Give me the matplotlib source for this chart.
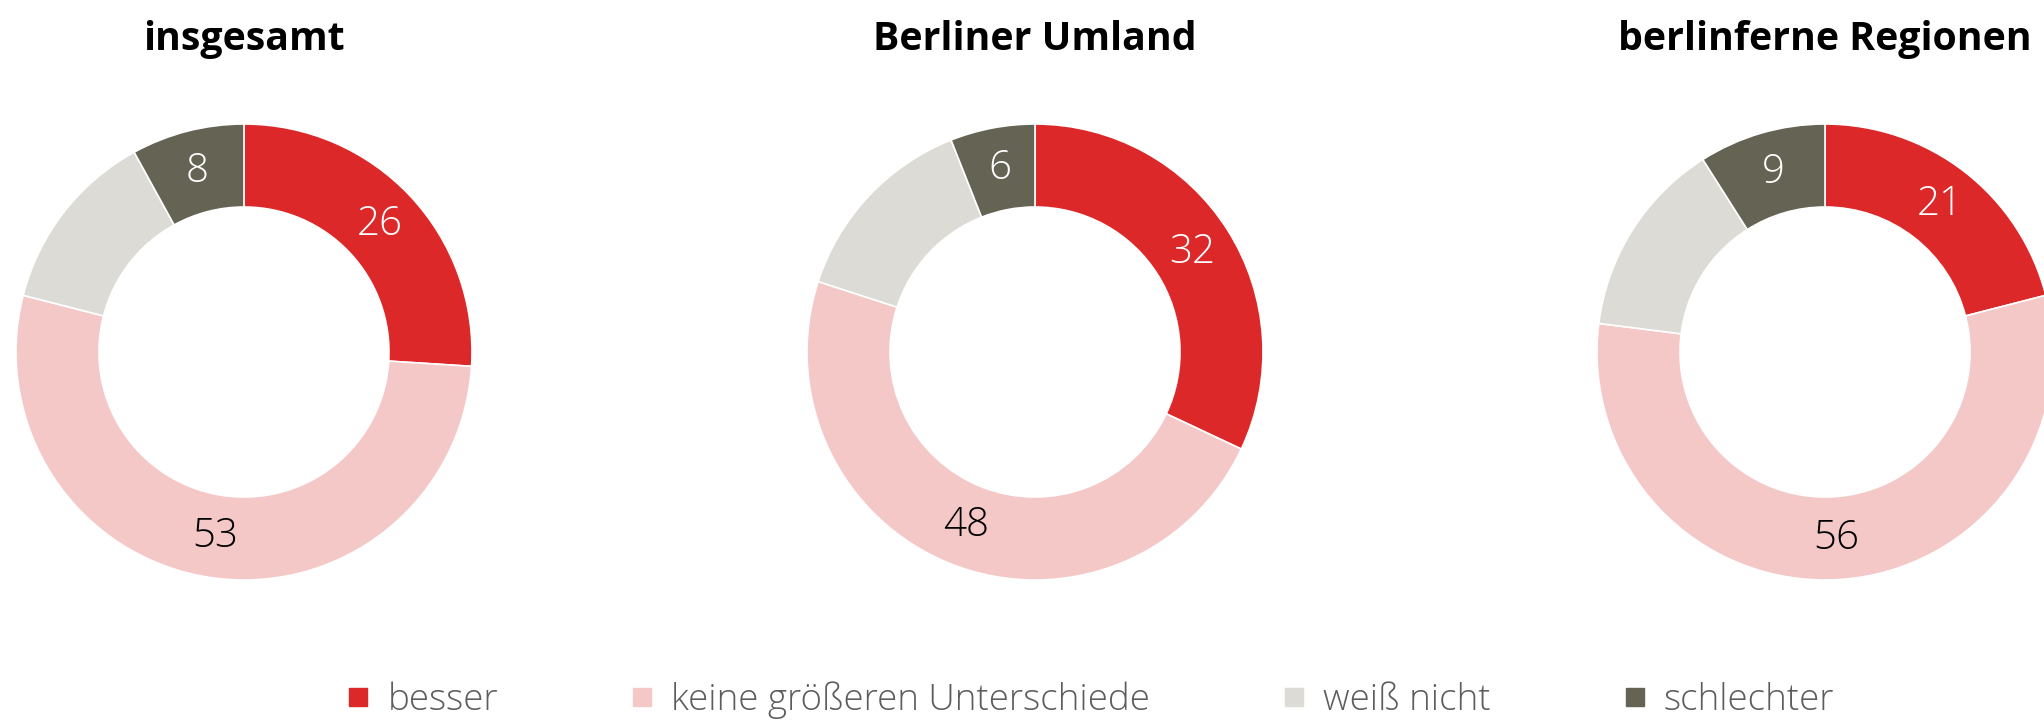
import numpy as np
import matplotlib.pyplot as plt
from matplotlib.lines import Line2D

# data
categories = ['besser', 'keine größeren Unterschiede', 'weiß nicht', 'schlechter']
groups = ['insgesamt', 'Berliner Umland', 'berlinferne Regionen']
insgesamt = [26, 53, 13, 8]
umland = [32, 48, 14, 6]
berlinfern = [21, 56, 14, 9]
colors = ['#dc2829', '#f5c8c8', '#dcdbd6', '#656354']
label_colors = ['white', 'black', 'black', 'white']
unlabeled = 'weiß nicht'

series = [insgesamt, umland, berlinfern]

W, H = 2044, 720
fig = plt.figure(figsize=(W / 100, H / 100), dpi=100)

font = 'Open Sans'
R = 228          # outer radius in px
r_in = 145       # inner radius in px
centers_x = [244, 1035, 1825]
center_y = 352   # from top

for name, vals, cx in zip(groups, series, centers_x):
  pad = 4
  ax = fig.add_axes([(cx - R - pad) / W, (H - center_y - R - pad) / H,
                     2 * (R + pad) / W, 2 * (R + pad) / H])
  lim = (R + pad) / R
  wedges, _ = ax.pie(vals, colors=colors, startangle=90, counterclock=False,
                     radius=1, wedgeprops=dict(width=(R - r_in) / R,
                                               edgecolor='white', linewidth=1.2))
  ax.set_xlim(-lim, lim)
  ax.set_ylim(-lim, lim)
  ax.set_aspect('equal')
  ax.axis('off')

  # value labels in the middle of the ring
  rl = (R + r_in) / 2 / R
  for w, v, cat, tc in zip(wedges, vals, categories, label_colors):
    if cat == unlabeled:
      continue
    ang = np.deg2rad((w.theta1 + w.theta2) / 2)
    ax.text(rl * np.cos(ang), rl * np.sin(ang), str(v), color=tc,
            ha='center', va='center', fontsize=29, family=font,
            fontweight='light')

  fig.text(cx / W, 1 - 50 / H, name, ha='center', va='baseline',
           fontsize=28.3, fontweight='bold', family=font, color='black')

# legend
handles = [Line2D([], [], marker='s', linestyle='', markersize=13,
                  markerfacecolor=c, markeredgecolor=c) for c in colors]
leg = fig.legend(handles, categories, loc='center', ncol=4,
                 bbox_to_anchor=(1090 / W, 1 - 700 / H), frameon=False,
                 handlelength=0.7, handletextpad=0.45, columnspacing=3.55,
                 prop=dict(family=font, size=26.5, weight='light'))
for t in leg.get_texts():
  t.set_color('#5d5d5d')

plt.savefig('out.png', dpi=100)
